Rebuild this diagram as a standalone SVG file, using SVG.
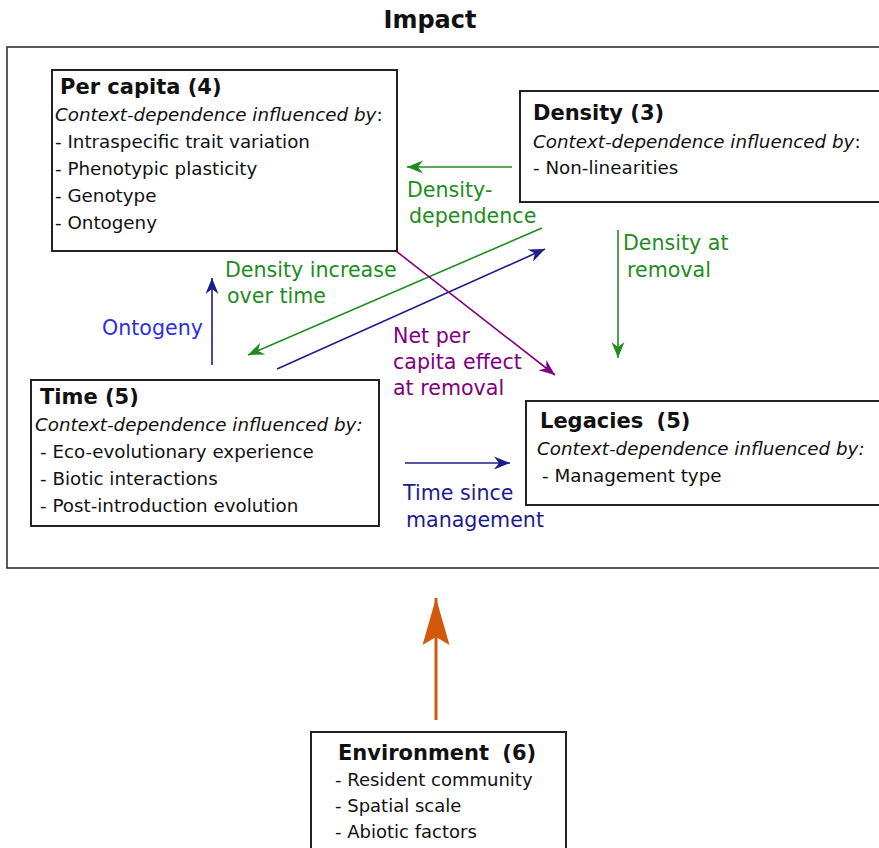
<svg xmlns="http://www.w3.org/2000/svg" width="879" height="848" viewBox="0 0 879 848">
<style>
text{font-family:"DejaVu Sans","Verdana",sans-serif;fill:#111}
.title{font-weight:bold;font-size:21px}
.it{font-style:italic;font-size:18.3px}
.body{font-size:18.3px}
.env{font-size:18px}
.box{fill:#fff;stroke:#222;stroke-width:2}
.lbl{font-size:20.6px}
.g{fill:#1f8c1f}.n{fill:#1c1c8c}.p{fill:#800080}.b{fill:#2f2fe0}
.lg{stroke:#1f8c1f;stroke-width:1.6;fill:none}
.ln{stroke:#1c1c8c;stroke-width:1.6;fill:none}
.lp{stroke:#800080;stroke-width:1.6;fill:none}
.lo{stroke:#d4580c;stroke-width:3;fill:none}
</style>
<defs>
<marker id="mg" viewBox="-17 -8 19 16" refX="0" refY="0" markerWidth="19" markerHeight="16" markerUnits="userSpaceOnUse" orient="auto"><path d="M0,0 L-16,-6.5 L-11,0 L-16,6.5 Z" fill="#1f8c1f"/></marker>
<marker id="mn" viewBox="-17 -8 19 16" refX="0" refY="0" markerWidth="19" markerHeight="16" markerUnits="userSpaceOnUse" orient="auto"><path d="M0,0 L-16,-6.5 L-11,0 L-16,6.5 Z" fill="#1c1c8c"/></marker>
<marker id="mp" viewBox="-17 -8 19 16" refX="0" refY="0" markerWidth="19" markerHeight="16" markerUnits="userSpaceOnUse" orient="auto"><path d="M0,0 L-16,-6.5 L-11,0 L-16,6.5 Z" fill="#800080"/></marker>
<marker id="mo" viewBox="-50 -16 52 32" refX="0" refY="0" markerWidth="52" markerHeight="32" markerUnits="userSpaceOnUse" orient="auto"><path d="M0,0 L-47,-13.5 L-39,0 L-47,13.5 Z" fill="#d4580c"/></marker>
</defs>

<text x="430" y="28" font-weight="bold" font-size="24" text-anchor="middle">Impact</text>
<rect x="7" y="47" width="890" height="521" fill="none" stroke="#333" stroke-width="1.6"/>

<g id="connectors">
<line x1="512" y1="167" x2="407" y2="167" class="lg" marker-end="url(#mg)"/>
<line x1="618" y1="230" x2="618" y2="358" class="lg" marker-end="url(#mg)"/>
<line x1="542" y1="228" x2="248" y2="355" class="lg" marker-end="url(#mg)"/>
<line x1="277" y1="369" x2="545" y2="249" class="ln" marker-end="url(#mn)"/>
<line x1="396" y1="251" x2="555" y2="375" class="lp" marker-end="url(#mp)"/>
<line x1="212" y1="365" x2="212" y2="278" class="ln" marker-end="url(#mn)"/>
<line x1="405" y1="463" x2="510" y2="463" class="ln" marker-end="url(#mn)"/>
<line x1="436" y1="720" x2="436" y2="598" class="lo" marker-end="url(#mo)"/>
<text class="lbl g" x="407" y="197">Density-</text>
<text class="lbl g" x="409" y="223">dependence</text>
<text class="lbl g" x="623" y="250">Density at</text>
<text class="lbl g" x="627" y="277">removal</text>
<text class="lbl g" x="225" y="277">Density increase</text>
<text class="lbl g" x="227" y="303">over time</text>
<text class="lbl b" x="102" y="335">Ontogeny</text>
<text class="lbl p" x="393" y="343">Net per</text>
<text class="lbl p" x="393" y="369">capita effect</text>
<text class="lbl p" x="393" y="395">at removal</text>
<text class="lbl n" x="403" y="500">Time since</text>
<text class="lbl n" x="406" y="527">management</text>
</g>

<g id="percapita">
<rect x="52" y="70" width="345" height="181" class="box"/>
<text x="60" y="94" class="title">Per capita (4)</text>
<text x="55" y="121" class="it">Context-dependence influenced by<tspan font-style="normal">:</tspan></text>
<text x="55" y="148" class="body">- Intraspecific trait variation</text>
<text x="55" y="175" class="body">- Phenotypic plasticity</text>
<text x="55" y="202" class="body">- Genotype</text>
<text x="55" y="229" class="body">- Ontogeny</text>
</g>

<g id="density">
<rect x="520" y="91" width="370" height="111" class="box"/>
<text x="533" y="120" class="title">Density (3)</text>
<text x="533" y="148" class="it">Context-dependence influenced by<tspan font-style="normal">:</tspan></text>
<text x="533" y="174" class="body">- Non-linearities</text>
</g>

<g id="time">
<rect x="31" y="380" width="348" height="146" class="box"/>
<text x="40" y="404" class="title">Time (5)</text>
<text x="35" y="431" class="it">Context-dependence influenced by:</text>
<text x="40" y="458" class="body">- Eco-evolutionary experience</text>
<text x="40" y="485" class="body">- Biotic interactions</text>
<text x="40" y="512" class="body">- Post-introduction evolution</text>
</g>

<g id="legacies">
<rect x="526" y="401" width="370" height="104" class="box"/>
<text x="540" y="428" class="title">Legacies <tspan dx="6">(5)</tspan></text>
<text x="537" y="455" class="it">Context-dependence influenced by:</text>
<text x="542" y="482" class="body">- Management type</text>
</g>

<g id="environment">
<rect x="311" y="732" width="255" height="130" class="box"/>
<text x="338" y="760" class="title">Environment <tspan dx="6">(6)</tspan></text>
<text x="335" y="786" class="env">- Resident community</text>
<text x="335" y="812" class="env">- Spatial scale</text>
<text x="335" y="838" class="env">- Abiotic factors</text>
</g>
</svg>
